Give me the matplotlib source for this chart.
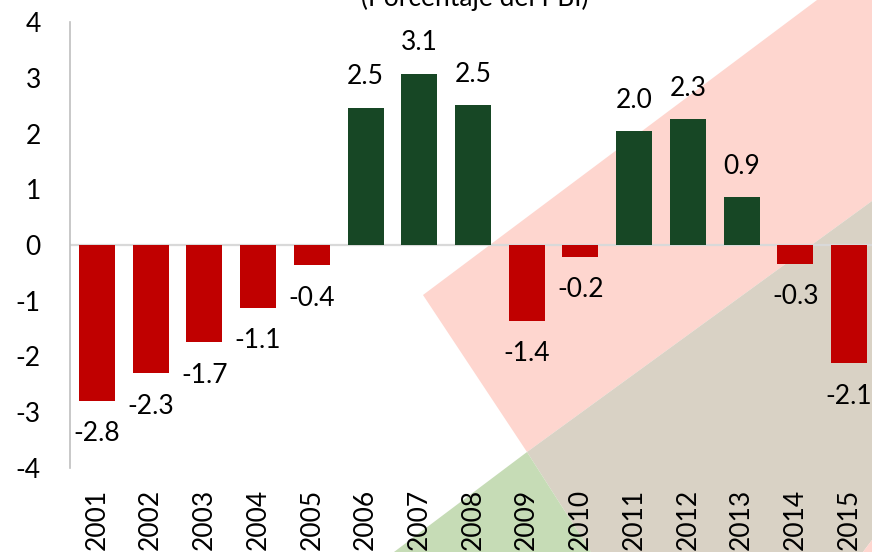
import matplotlib
matplotlib.use("Agg")
import matplotlib.pyplot as plt
from matplotlib.patches import Polygon
import numpy as np

plt.rcParams['font.family'] = ['Lato', 'DejaVu Sans']

# datos: resultado fiscal (% del PBI)
years = ['2001', '2002', '2003', '2004', '2005', '2006', '2007', '2008',
         '2009', '2010', '2011', '2012', '2013', '2014', '2015']
values = [-2.79, -2.30, -1.74, -1.13, -0.36, 2.46, 3.07, 2.51,
          -1.36, -0.21, 2.04, 2.26, 0.86, -0.34, -2.12]
labels = ['-2.8', '-2.3', '-1.7', '-1.1', '-0.4', '2.5', '3.1', '2.5',
          '-1.4', '-0.2', '2.0', '2.3', '0.9', '-0.3', '-2.1']
yticks = [-4, -3, -2, -1, 0, 1, 2, 3, 4]

RED = '#C00000'
GREEN = '#174725'

W, H = 872, 552
fig = plt.figure(figsize=(W / 100, H / 100), dpi=100)
fig.patch.set_facecolor('white')


def px(pts):
    # pixeles (origen arriba a la izquierda) -> fraccion de figura
    a = np.array(pts, dtype=float)
    return np.column_stack([a[:, 0] / W, 1 - a[:, 1] / H])


# fondo decorativo
shapes = [
    ([(423, 295), (817, 0), (872, 0), (872, 201), (527, 452)], '#FED6CF'),
    ([(527, 452), (872, 201), (872, 540), (863, 552), (591, 552)], '#D9D2C5'),
    ([(863, 552), (872, 540), (872, 552)], '#FED6CF'),
    ([(527, 452), (591, 552), (394, 552)], '#C6DCB6'),
]
for pts, col in shapes:
    fig.add_artist(Polygon(px(pts), closed=True, facecolor=col, edgecolor='none',
                           transform=fig.transFigure, zorder=-5))

ax = fig.add_axes([70 / W, 1 - 468 / H, 806 / W, 446 / H])
ax.patch.set_alpha(0)

x = np.arange(len(years))
colors = [RED if v < 0 else GREEN for v in values]
ax.bar(x, values, width=0.67, color=colors, zorder=3)

ax.axhline(0, color='#D9D9D9', lw=1.6, zorder=2)

for xi, v, lab in zip(x, values, labels):
    off = 31 if v >= 0 else -33
    ax.annotate(lab, (xi, v), xytext=(0, off), textcoords='offset pixels',
                ha='center', va='center', fontsize=19, color='black', zorder=5)

ax.set_xlim(-0.5, len(years) - 0.5)
ax.set_ylim(-4, 4)
ax.set_yticks(yticks)
ax.set_yticklabels([str(t) for t in yticks])
ax.set_xticks(x)
ax.set_xticklabels(years, rotation=90, va='top')

ax.tick_params(axis='y', length=0, pad=21, labelsize=19)
ax.tick_params(axis='x', length=0, pad=15, labelsize=19)

for s in ['top', 'right', 'bottom']:
    ax.spines[s].set_visible(False)
ax.spines['left'].set_color('#BFBFBF')
ax.spines['left'].set_linewidth(1.2)

fig.text(475 / W, 1 - 6 / H, '(Porcentaje del PBI)', ha='center', va='baseline',
         fontsize=19, color='black')

fig.savefig('out.png', dpi=100)
